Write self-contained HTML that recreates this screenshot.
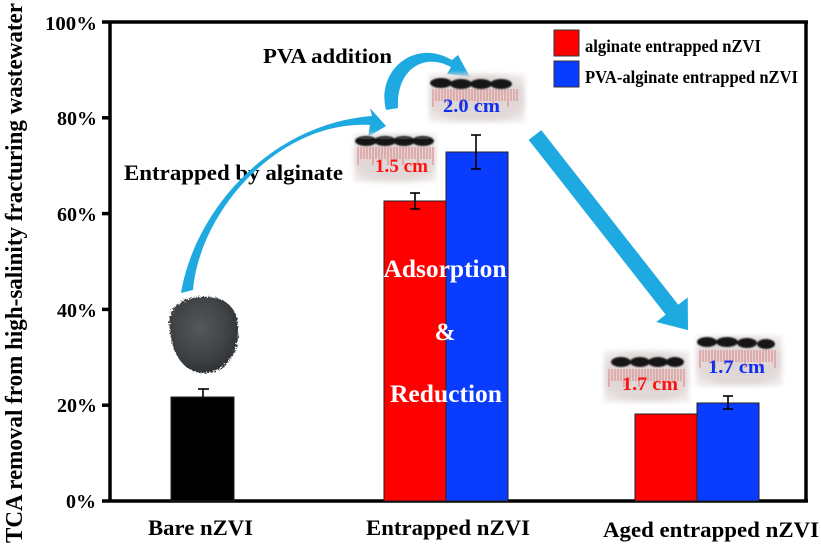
<!DOCTYPE html>
<html><head><meta charset="utf-8"><style>
html,body{margin:0;padding:0;background:#fff;}
svg{display:block;}
text{font-family:"Liberation Serif",serif;font-weight:bold;}
</style></head><body>
<svg width="821" height="546" viewBox="0 0 821 546" xmlns="http://www.w3.org/2000/svg">
<defs>
<filter id="soft" x="-20%" y="-30%" width="140%" height="160%"><feGaussianBlur stdDeviation="2.5"/></filter>
<filter id="soft2" x="-20%" y="-30%" width="140%" height="160%"><feGaussianBlur stdDeviation="0.8"/></filter>
<radialGradient id="pg" cx="50%" cy="50%" r="60%"><stop offset="0" stop-color="#ddd3d3"/><stop offset="0.8" stop-color="#e2d9d9"/><stop offset="1" stop-color="#efe9e9"/></radialGradient>
<radialGradient id="pw" cx="45%" cy="40%" r="60%"><stop offset="0" stop-color="#55585b"/><stop offset="0.7" stop-color="#3e4144"/><stop offset="1" stop-color="#303336"/></radialGradient>
<filter id="rough" x="-10%" y="-10%" width="120%" height="120%"><feTurbulence type="fractalNoise" baseFrequency="0.6" numOctaves="2" result="n"/><feDisplacementMap in="SourceGraphic" in2="n" scale="6"/></filter>
</defs>

<!-- Y axis title -->
<text transform="translate(22,273) rotate(-90)" text-anchor="middle" font-size="24" textLength="540" lengthAdjust="spacingAndGlyphs">TCA removal from high-salinity fracturing wastewater</text>

<!-- frame -->
<g stroke="#000" stroke-width="3.5" fill="none">
<line x1="102" y1="22" x2="808" y2="22"/>
<line x1="110" y1="22" x2="110" y2="501"/>
<line x1="102" y1="501" x2="808" y2="501"/>
<line x1="806" y1="22" x2="806" y2="501"/>
<line x1="102" y1="117.8" x2="110" y2="117.8"/>
<line x1="102" y1="213.6" x2="110" y2="213.6"/>
<line x1="102" y1="309.4" x2="110" y2="309.4"/>
<line x1="102" y1="405.2" x2="110" y2="405.2"/>
</g>

<!-- tick labels -->
<g font-size="20" text-anchor="end">
<text x="97" y="30" textLength="52" lengthAdjust="spacingAndGlyphs">100%</text>
<text x="97" y="125">80%</text>
<text x="97" y="221">60%</text>
<text x="97" y="317">40%</text>
<text x="97" y="412">20%</text>
<text x="96" y="508">0%</text>
</g>

<!-- x labels -->
<g font-size="22">
<text x="148" y="535" textLength="105" lengthAdjust="spacingAndGlyphs">Bare nZVI</text>
<text x="366" y="535" textLength="164" lengthAdjust="spacingAndGlyphs">Entrapped nZVI</text>
<text x="603" y="537" textLength="216" lengthAdjust="spacingAndGlyphs">Aged entrapped nZVI</text>
</g>

<!-- bars -->
<g stroke="#222" stroke-width="1">
<rect x="171" y="397" width="63" height="104" fill="#000"/>
<rect x="384" y="201" width="62" height="300" fill="#ff0000"/>
<rect x="446" y="152" width="62" height="349" fill="#0a3cff"/>
<rect x="635" y="414" width="62" height="87" fill="#ff0000"/>
<rect x="697" y="403" width="62" height="98" fill="#0a3cff"/>
</g>

<!-- error bars -->
<g stroke="#000" stroke-width="1.6" fill="none">
<line x1="203" y1="389" x2="203" y2="397"/><line x1="198" y1="389" x2="209" y2="389"/>
<line x1="415" y1="193" x2="415" y2="209"/><line x1="410" y1="193" x2="420" y2="193"/><line x1="410" y1="209" x2="420" y2="209"/>
<line x1="476" y1="135" x2="476" y2="169"/><line x1="471" y1="135" x2="481" y2="135"/><line x1="471" y1="169" x2="481" y2="169"/>
<line x1="728" y1="396" x2="728" y2="409"/><line x1="723" y1="396" x2="733" y2="396"/><line x1="723" y1="409" x2="733" y2="409"/>
</g>

<!-- bar annotation text -->
<g fill="#fff" font-size="25" text-anchor="middle">
<text x="445" y="277" textLength="123" lengthAdjust="spacingAndGlyphs">Adsorption</text>
<text x="445" y="340">&amp;</text>
<text x="446" y="402" textLength="112" lengthAdjust="spacingAndGlyphs">Reduction</text>
</g>

<!-- legend -->
<rect x="554" y="30" width="25" height="26" fill="#ff0000" stroke="#333" stroke-width="1"/>
<rect x="554" y="61" width="25" height="26" fill="#0a3cff" stroke="#333" stroke-width="1"/>
<text x="585" y="52" font-size="18" textLength="176" lengthAdjust="spacingAndGlyphs">alginate entrapped nZVI</text>
<text x="585" y="83" font-size="18" textLength="213" lengthAdjust="spacingAndGlyphs">PVA-alginate entrapped nZVI</text>

<!-- annotations -->
<text x="263" y="63" font-size="21" textLength="129" lengthAdjust="spacingAndGlyphs">PVA addition</text>
<text x="124" y="180" font-size="22" textLength="219" lengthAdjust="spacingAndGlyphs">Entrapped by alginate</text>

<!-- powder -->
<path d="M170 330 C166 305 185 296 205 297 C225 296 238 308 238 328 C240 350 228 372 205 373 C182 373 172 352 170 330 Z" fill="url(#pw)" filter="url(#rough)"/>

<!-- arrows -->
<g fill="#1eaae0">
<path d="M181 293 C195 210 270 124 372 116 L370 108 L386 126 L368 137 L370 125 C280 120 200 210 193 290 Z"/>
<path d="M386 110 C376 70 415 38 452 60 L458 55 L470 77 L447 74 L451 67 C423 52 396 70 398 108 Z"/>
<g transform="translate(535,135) rotate(51.9)">
<path d="M0 -8 L222 -8 L222 -20 L248 0 L222 20 L222 8 L0 8 Z"/>
</g>
</g>

<!-- photo 1 (1.5 cm) -->
<g>
<rect x="354" y="134" width="82" height="48" fill="url(#pg)" filter="url(#soft)"/>
<g stroke="#e07f7f" stroke-width="1">
<path d="M358 147v18M361 147v12M364 147v12M367 147v12M370 147v12M373 147v18M376 147v12M379 147v12M382 147v12M385 147v12M388 147v18M391 147v12M394 147v12M397 147v12M400 147v12M403 147v18M406 147v12M409 147v12M412 147v12M415 147v12M418 147v18M421 147v12M424 147v12M427 147v12M430 147v12M433 147v18"/>
</g>
<g fill="#151517" filter="url(#soft2)">
<ellipse cx="366" cy="141" rx="11" ry="5"/><ellipse cx="385" cy="141" rx="11" ry="5"/><ellipse cx="404" cy="141" rx="11" ry="5"/><ellipse cx="423" cy="141" rx="11" ry="5"/>
</g>
<g fill="#555" opacity="0.6"><ellipse cx="366" cy="138" rx="7" ry="1.3"/><ellipse cx="385" cy="138" rx="7" ry="1.3"/><ellipse cx="404" cy="138" rx="7" ry="1.3"/><ellipse cx="423" cy="138" rx="7" ry="1.3"/></g>
<text x="375" y="172" font-size="19" fill="#ff1010" textLength="53" lengthAdjust="spacingAndGlyphs">1.5 cm</text>
</g>

<!-- photo 2 (2.0 cm) -->
<g>
<rect x="429" y="74" width="96" height="48" fill="url(#pg)" filter="url(#soft)"/>
<g stroke="#e07f7f" stroke-width="1">
<path d="M433 89v18M436 89v12M439 89v12M442 89v12M445 89v12M448 89v18M451 89v12M454 89v12M457 89v12M460 89v12M463 89v18M466 89v12M469 89v12M472 89v12M475 89v12M478 89v18M481 89v12M484 89v12M487 89v12M490 89v12M493 89v18M496 89v12M499 89v12M502 89v12M505 89v12M508 89v18M511 89v12M514 89v12M517 89v12"/>
</g>
<g fill="#151517" filter="url(#soft2)">
<ellipse cx="441" cy="83" rx="11" ry="5"/><ellipse cx="461" cy="84" rx="11" ry="5"/><ellipse cx="481" cy="84" rx="11" ry="5"/><ellipse cx="501" cy="84" rx="11" ry="5"/>
</g>
<text x="443" y="112" font-size="19" fill="#1030f0" textLength="57" lengthAdjust="spacingAndGlyphs">2.0 cm</text>
</g>

<!-- aged red photo -->
<g>
<rect x="604" y="351" width="85" height="51" fill="url(#pg)" filter="url(#soft)"/>
<g stroke="#e07f7f" stroke-width="1">
<path d="M609 369v18M612 369v12M615 369v12M618 369v12M621 369v12M624 369v18M627 369v12M630 369v12M633 369v12M636 369v12M639 369v18M642 369v12M645 369v12M648 369v12M651 369v12M654 369v18M657 369v12M660 369v12M663 369v12M666 369v12M669 369v18M672 369v12M675 369v12M678 369v12M681 369v12M684 369v18"/>
</g>
<g fill="#151517" filter="url(#soft2)">
<ellipse cx="621" cy="362" rx="10" ry="5"/><ellipse cx="640" cy="362" rx="10" ry="5"/><ellipse cx="658" cy="362" rx="10" ry="5"/><ellipse cx="675" cy="362" rx="9" ry="5"/>
</g>
<text x="622" y="390" font-size="19" fill="#ff1010" textLength="56" lengthAdjust="spacingAndGlyphs">1.7 cm</text>
</g>

<!-- aged blue photo -->
<g>
<rect x="696" y="336" width="86" height="50" fill="url(#pg)" filter="url(#soft)"/>
<g stroke="#e07f7f" stroke-width="1">
<path d="M700 350v18M703 350v12M706 350v12M709 350v12M712 350v12M715 350v18M718 350v12M721 350v12M724 350v12M727 350v12M730 350v18M733 350v12M736 350v12M739 350v12M742 350v12M745 350v18M748 350v12M751 350v12M754 350v12M757 350v12M760 350v18M763 350v12M766 350v12M769 350v12M772 350v12M775 350v18"/>
</g>
<g fill="#151517" filter="url(#soft2)">
<ellipse cx="707" cy="342" rx="10" ry="5"/><ellipse cx="727" cy="342" rx="11" ry="5"/><ellipse cx="747" cy="343" rx="10" ry="5"/><ellipse cx="766" cy="344" rx="9" ry="5"/>
</g>
<text x="708" y="373" font-size="19" fill="#1030f0" textLength="57" lengthAdjust="spacingAndGlyphs">1.7 cm</text>
</g>
</svg>
</body></html>
